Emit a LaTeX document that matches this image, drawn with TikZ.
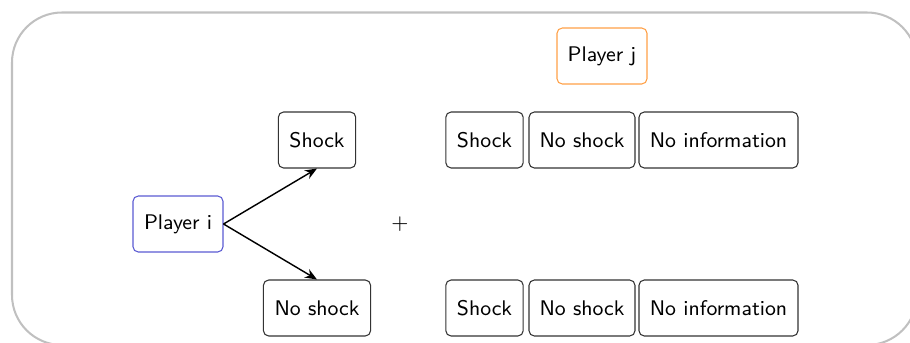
\documentclass[tikz,border=0pt]{standalone}
\usetikzlibrary{arrows.meta}
\definecolor{framegray}{RGB}{192,192,192}
\definecolor{pblue}{RGB}{90,90,210}
\definecolor{porange}{RGB}{255,160,70}
\begin{document}
\begin{tikzpicture}[x=0.42pt,y=-0.42pt,
  box/.style={draw=black!80, rounded corners=2.2pt, line width=0.45pt, minimum height=23.5pt, inner sep=0pt, font=\sffamily\fontsize{8.9}{10}\selectfont, text=black},
  conn/.style={line width=0.6pt, -{Stealth[length=5pt,width=4pt]}}]
\useasboundingbox (0,0) rectangle (910,343);
\draw[framegray, line width=0.85pt, rounded corners=21pt] (12,12.5) rectangle (917,345);
\node[box, draw=porange, minimum width=37.8pt] (pj) at (602,56) {Player j};
\node[box, draw=pblue, minimum width=37.8pt] (pi) at (178,224) {Player i};
\node[box, minimum width=32.5pt] (s1) at (317,140) {Shock};
\node[box, minimum width=45pt] (n1) at (317,308) {No shock};
\node[font=\fontsize{8.9}{10}\selectfont] (plus) at (400,224) {$+$};
\node[box, minimum width=32.5pt] (ts) at (484.5,140) {Shock};
\node[box, minimum width=44.5pt] (tn) at (582,140) {No shock};
\node[box, minimum width=66.8pt] (ti) at (718.5,140) {No information};
\node[box, minimum width=32.5pt] (bs) at (484.5,308) {Shock};
\node[box, minimum width=44.5pt] (bn) at (582,308) {No shock};
\node[box, minimum width=66.8pt] (bi) at (718.5,308) {No information};
\draw[conn] (pi.east) -- (s1.south);
\draw[conn] (pi.east) -- (n1.north);
\end{tikzpicture}
\end{document}
